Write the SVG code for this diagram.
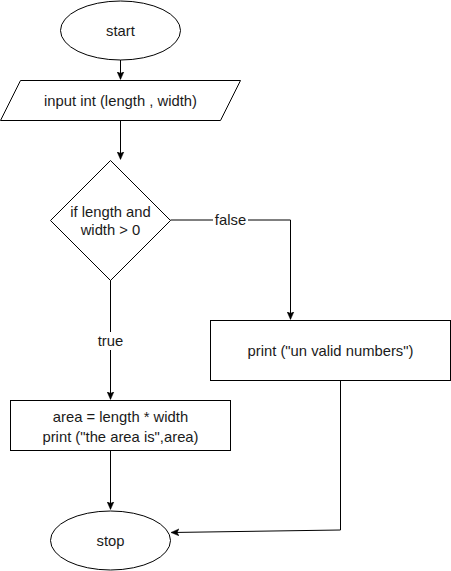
<svg xmlns="http://www.w3.org/2000/svg" width="451" height="571" viewBox="0 0 451 571">
<style>
.s{fill:#fff;stroke:#000;stroke-width:1}
.t{font-family:"Liberation Sans",Arial,Helvetica,sans-serif;font-size:14.8px;fill:#1a1a1a;text-anchor:middle;dominant-baseline:central}
.c{fill:none;stroke:#000;stroke-width:1}
</style>
<defs>
<marker id="a" viewBox="0 0 8 8" refX="7.5" refY="4" markerWidth="8" markerHeight="8" markerUnits="userSpaceOnUse" orient="auto">
<path d="M0,0.5 L8,4 L0,7.5 L2,4 Z" fill="#000" stroke="#000" stroke-width="0.5"/>
</marker>
</defs>
<rect width="451" height="571" fill="#fff"/>
<g id="connectors">
<path class="c" d="M120.5,60 L120.5,79" marker-end="url(#a)"/>
<path class="c" d="M120.5,120 L120.5,159" marker-end="url(#a)"/>
<path class="c" d="M170.5,220 L290.5,220 L290.5,319" marker-end="url(#a)"/>
<path class="c" d="M110.5,280 L110.5,399" marker-end="url(#a)"/>
<path class="c" d="M110.5,450 L110.5,509" marker-end="url(#a)"/>
<path class="c" d="M340.5,380 L340.5,530 L171.5,532.5" marker-end="url(#a)"/>
<rect x="213" y="211" width="35" height="17" fill="#fff"/>
<text class="t" x="230.5" y="219.5">false</text>
<rect x="95" y="332" width="31" height="18" fill="#fff"/>
<text class="t" x="110.5" y="341">true</text>
</g>
<g id="start">
<ellipse class="s" cx="120.5" cy="30.5" rx="60" ry="29.5"/>
<text class="t" x="120.5" y="30.5">start</text>
</g>
<g id="input">
<polygon class="s" points="20.5,80.5 240.5,80.5 220.5,120.5 0.5,120.5"/>
<text class="t" x="120.5" y="100.5">input int (length , width)</text>
</g>
<g id="decision">
<polygon class="s" points="110.5,160.5 170.5,220.5 110.5,280.5 50.5,220.5"/>
<text class="t" x="110.5" y="211.5">if length and</text>
<text class="t" x="110.5" y="230">width &gt; 0</text>
</g>
<g id="invalid">
<rect class="s" x="210.5" y="320.5" width="240" height="60"/>
<text class="t" x="330.5" y="350.5">print ("un valid numbers")</text>
</g>
<g id="area">
<rect class="s" x="10.5" y="400.5" width="220" height="50"/>
<text class="t" x="120.5" y="417">area = length * width</text>
<text class="t" x="120.5" y="436.5">print ("the area is",area)</text>
</g>
<g id="stop">
<ellipse class="s" cx="110.5" cy="540.5" rx="60" ry="29.5"/>
<text class="t" x="110.5" y="540.5">stop</text>
</g>
</svg>
